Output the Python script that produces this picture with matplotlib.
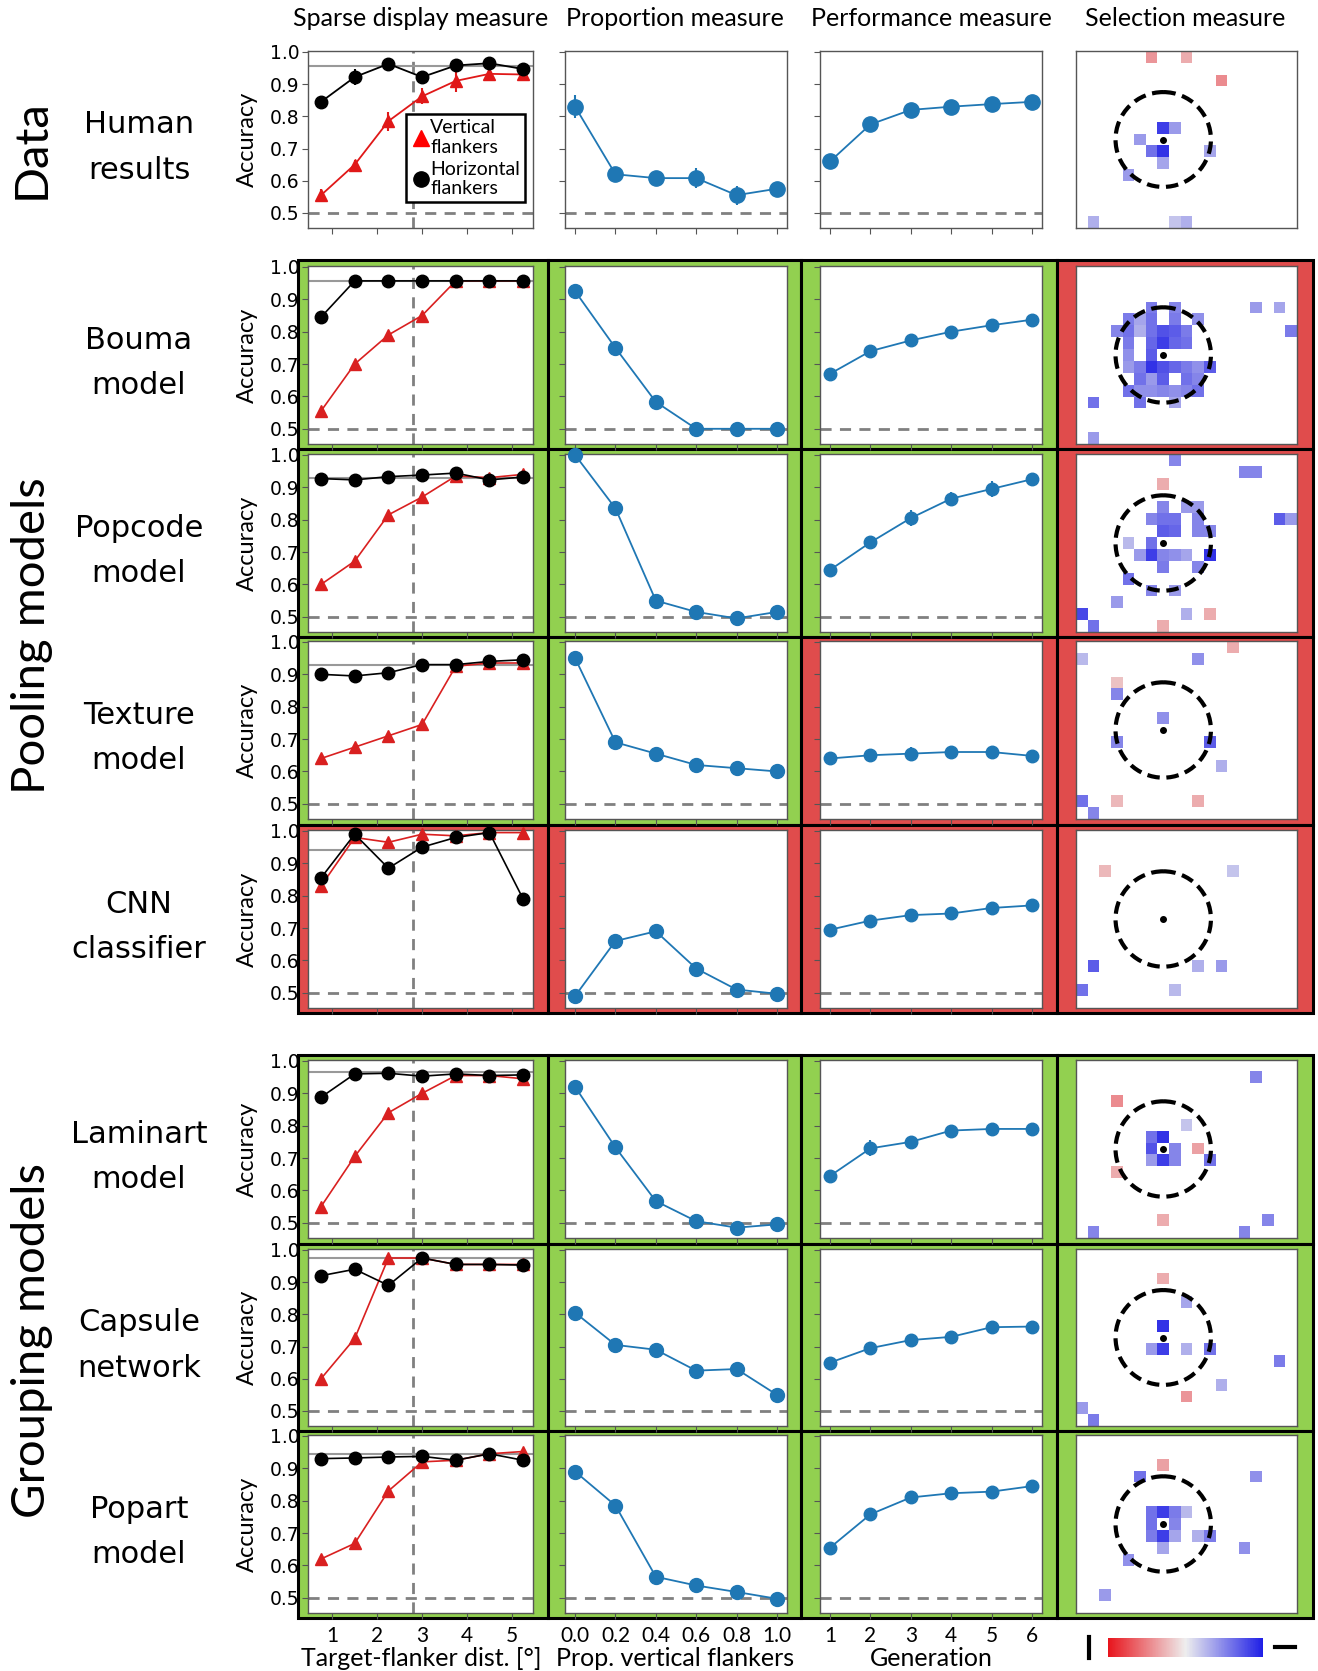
import numpy as np
import matplotlib
matplotlib.use('Agg')
import matplotlib.pyplot as plt
from matplotlib.patches import Rectangle, Ellipse
from matplotlib.colors import LinearSegmentedColormap, Normalize
from matplotlib.lines import Line2D
from matplotlib.cm import ScalarMappable

W, H = 1318, 1671
NARROW = ['Lato', 'DejaVu Sans']
WIDE = ['DejaVu Sans']

# ---------------- data ----------------
row_names = ['Human\nresults', 'Bouma\nmodel', 'Popcode\nmodel', 'Texture\nmodel',
             'CNN\nclassifier', 'Laminart\nmodel', 'Capsule\nnetwork', 'Popart\nmodel']
col_titles = ['Sparse display measure', 'Proportion measure', 'Performance measure', 'Selection measure']
col_xlabels = ['Target-flanker dist. [°]', 'Prop. vertical flankers', 'Generation']
group_labels = ['Data', 'Pooling models', 'Grouping models']

sparse_dist = [0.75, 1.5, 2.25, 3.0, 3.75, 4.5, 5.25]
sparse_ticks = [1, 2, 3, 4, 5]
prop_vert = [0.0, 0.2, 0.4, 0.6, 0.8, 1.0]
prop_ticklabels = ['0.0', '0.2', '0.4', '0.6', '0.8', '1.0']
generation = [1, 2, 3, 4, 5, 6]
acc_ticks = [0.5, 0.6, 0.7, 0.8, 0.9, 1.0]
crit_dist = 2.8

# sparse display: vertical (red) and horizontal (black) flankers
vert_human = [0.555, 0.65, 0.785, 0.862, 0.91, 0.932, 0.93]
vert_human_err = [0.02, 0.015, 0.03, 0.025, 0.035, 0.015, 0.012]
horiz_human = [0.845, 0.922, 0.963, 0.922, 0.958, 0.965, 0.947]
horiz_human_err = [0.008, 0.025, 0.015, 0.01, 0.02, 0.008, 0.015]
vert_bouma = [0.555, 0.70, 0.79, 0.85, 0.957, 0.957, 0.957]
horiz_bouma = [0.845, 0.957, 0.957, 0.957, 0.957, 0.957, 0.957]
vert_popcode = [0.60, 0.672, 0.815, 0.87, 0.935, 0.93, 0.94]
horiz_popcode = [0.927, 0.923, 0.933, 0.938, 0.944, 0.923, 0.932]
vert_texture = [0.64, 0.675, 0.71, 0.745, 0.925, 0.935, 0.935]
horiz_texture = [0.90, 0.895, 0.905, 0.93, 0.93, 0.94, 0.945]
vert_cnn = [0.83, 0.98, 0.965, 0.99, 0.985, 0.995, 0.995]
horiz_cnn = [0.855, 0.99, 0.885, 0.95, 0.98, 0.995, 0.79]
vert_laminart = [0.55, 0.705, 0.84, 0.90, 0.955, 0.955, 0.945]
horiz_laminart = [0.888, 0.96, 0.962, 0.953, 0.96, 0.955, 0.957]
vert_capsule = [0.60, 0.725, 0.975, 0.975, 0.955, 0.955, 0.955]
horiz_capsule = [0.92, 0.94, 0.89, 0.975, 0.955, 0.955, 0.953]
vert_popart = [0.62, 0.668, 0.83, 0.92, 0.925, 0.945, 0.952]
horiz_popart = [0.93, 0.932, 0.935, 0.937, 0.925, 0.945, 0.925]
baseline = [0.955, 0.957, 0.93, 0.93, 0.94, 0.965, 0.975, 0.945]

# proportion measure
prop_human = [0.83, 0.62, 0.608, 0.608, 0.555, 0.575]
prop_human_err = [0.035, 0.02, 0.015, 0.03, 0.03, 0.02]
prop_bouma = [0.925, 0.75, 0.583, 0.50, 0.50, 0.50]
prop_popcode = [1.0, 0.835, 0.55, 0.515, 0.495, 0.515]
prop_texture = [0.95, 0.69, 0.655, 0.62, 0.61, 0.60]
prop_cnn = [0.49, 0.66, 0.69, 0.575, 0.51, 0.497]
prop_laminart = [0.92, 0.733, 0.567, 0.505, 0.485, 0.495]
prop_capsule = [0.805, 0.705, 0.69, 0.625, 0.63, 0.55]
prop_popart = [0.89, 0.785, 0.565, 0.538, 0.518, 0.497]

# performance measure
perf_human = [0.66, 0.775, 0.82, 0.83, 0.838, 0.845]
perf_human_err = [0.012, 0.02, 0.02, 0.02, 0.01, 0.008]
perf_bouma = [0.67, 0.74, 0.773, 0.80, 0.82, 0.837]
perf_bouma_err = [0.005, 0.005, 0.005, 0.005, 0.005, 0.005]
perf_popcode = [0.645, 0.73, 0.805, 0.865, 0.895, 0.925]
perf_popcode_err = [0.01, 0.015, 0.025, 0.02, 0.025, 0.015]
perf_texture = [0.64, 0.65, 0.655, 0.66, 0.66, 0.648]
perf_texture_err = [0.01, 0.015, 0.02, 0.015, 0.012, 0.015]
perf_cnn = [0.695, 0.723, 0.74, 0.745, 0.762, 0.77]
perf_cnn_err = [0.015, 0.015, 0.015, 0.015, 0.015, 0.01]
perf_laminart = [0.645, 0.73, 0.75, 0.785, 0.79, 0.79]
perf_laminart_err = [0.015, 0.025, 0.01, 0.015, 0.012, 0.01]
perf_capsule = [0.65, 0.695, 0.72, 0.73, 0.76, 0.762]
perf_capsule_err = [0.01, 0.02, 0.01, 0.01, 0.015, 0.01]
perf_popart = [0.655, 0.758, 0.81, 0.823, 0.828, 0.845]
perf_popart_err = [0.01, 0.02, 0.015, 0.02, 0.012, 0.01]

# selection measure: (row, col, value); positive = blue, negative = red
sel_human = [(0, 6, -0.4), (0, 9, -0.3), (2, 12, -0.45), (6, 7, 0.85), (6, 8, 0.4),
             (7, 5, 0.4), (8, 6, 0.6), (8, 7, 0.9), (8, 11, 0.35), (9, 7, 0.35),
             (10, 4, 0.4), (14, 1, 0.3), (14, 8, 0.2), (14, 9, 0.3)]
sel_bouma = [(3, 6, 0.55), (3, 8, 0.5), (3, 15, 0.4), (3, 17, 0.35),
             (4, 4, 0.55), (4, 5, 0.35), (4, 6, 0.6), (4, 8, 0.55), (4, 10, 0.45),
             (5, 3, 0.5), (5, 4, 0.6), (5, 5, 0.3), (5, 6, 0.6), (5, 7, 0.75), (5, 8, 0.7), (5, 9, 0.55), (5, 18, 0.55),
             (6, 4, 0.55), (6, 6, 0.65), (6, 7, 0.85), (6, 8, 0.65), (6, 9, 0.6),
             (7, 4, 0.45), (7, 6, 0.7),
             (8, 4, 0.4), (8, 5, 0.55), (8, 6, 0.9), (8, 7, 0.75), (8, 8, 0.65), (8, 9, 0.55), (8, 10, 0.45), (8, 11, 0.7),
             (9, 5, 0.6), (9, 6, 0.4), (9, 7, 0.7), (9, 9, 0.6), (9, 10, 0.5),
             (10, 4, 0.6), (10, 5, 0.45), (10, 6, 0.45), (10, 7, 0.5), (10, 8, 0.45), (10, 9, 0.5), (10, 10, 0.6),
             (11, 1, 0.6), (11, 5, 0.6), (11, 8, 0.35), (14, 1, 0.4)]
sel_popcode = [(0, 8, 0.5), (1, 14, 0.5), (1, 15, 0.5), (2, 7, -0.3),
               (4, 7, 0.5), (4, 9, 0.4), (4, 10, 0.4),
               (5, 6, 0.5), (5, 7, 0.6), (5, 8, 0.6), (5, 10, 0.5), (5, 17, 0.7), (5, 18, 0.4),
               (6, 7, 0.7), (6, 8, 0.65), (6, 10, 0.5), (6, 11, 0.5),
               (7, 4, 0.25), (7, 6, 0.6),
               (8, 5, 0.4), (8, 6, 0.85), (8, 7, 0.5), (8, 8, 0.45), (8, 9, 0.35), (8, 11, 0.9),
               (9, 7, 0.55), (9, 10, 0.5), (10, 4, 0.6), (11, 6, 0.5), (11, 8, 0.4),
               (12, 3, 0.4), (13, 0, 0.8), (13, 9, 0.3), (13, 11, -0.3), (14, 1, 0.6), (14, 7, -0.3)]
sel_texture = [(0, 13, -0.3), (1, 0, 0.25), (1, 10, 0.45), (3, 3, -0.2), (4, 3, 0.5),
               (6, 7, 0.45), (8, 3, 0.5), (8, 11, 0.7), (10, 12, 0.3),
               (13, 0, 0.6), (14, 1, 0.5), (13, 3, -0.25), (13, 10, -0.3)]
sel_cnn = [(3, 2, -0.25), (3, 13, 0.2), (11, 1, 0.7), (11, 10, 0.3), (11, 12, 0.4),
           (13, 0, 0.6), (13, 8, 0.25)]
sel_laminart = [(1, 15, 0.5), (3, 3, -0.45), (5, 9, 0.2), (6, 6, 0.6), (6, 7, 0.9),
                (7, 6, 0.75), (7, 8, 0.5), (7, 10, -0.35),
                (8, 6, 0.4), (8, 7, 0.85), (8, 8, 0.5), (8, 11, 0.6),
                (9, 3, -0.3), (13, 7, -0.3), (13, 16, 0.5), (14, 1, 0.5), (14, 14, 0.5)]
sel_capsule = [(2, 7, -0.3), (4, 9, 0.35), (6, 7, 0.9), (8, 6, 0.4), (8, 7, 0.85),
               (8, 9, 0.3), (8, 11, 0.6), (9, 17, 0.55), (11, 12, 0.3), (12, 9, -0.4),
               (13, 0, 0.4), (14, 1, 0.55)]
sel_popart = [(2, 7, -0.35), (3, 5, 0.6), (3, 15, 0.45),
              (6, 6, 0.6), (6, 7, 0.85), (6, 8, 0.55), (6, 9, 0.25),
              (7, 6, 0.6), (7, 8, 0.5),
              (8, 6, 0.55), (8, 7, 0.85), (8, 8, 0.35), (8, 10, 0.3), (8, 11, 0.55),
              (9, 7, 0.35), (9, 14, 0.45), (10, 4, 0.45), (13, 2, 0.4)]
sel_shape = (15, 19)
sel_centre = (7.5, 7.5)
sel_radius = 4.1

# verdict colours per model row (sparse, proportion, performance, selection)
verdict_bouma = ['pass', 'pass', 'pass', 'fail']
verdict_popcode = ['pass', 'pass', 'pass', 'fail']
verdict_texture = ['pass', 'pass', 'fail', 'fail']
verdict_cnn = ['fail', 'fail', 'fail', 'fail']
verdict_laminart = ['pass', 'pass', 'pass', 'pass']
verdict_capsule = ['pass', 'pass', 'pass', 'pass']
verdict_popart = ['pass', 'pass', 'pass', 'pass']

sparse_vert = [vert_human, vert_bouma, vert_popcode, vert_texture, vert_cnn, vert_laminart, vert_capsule, vert_popart]
sparse_horiz = [horiz_human, horiz_bouma, horiz_popcode, horiz_texture, horiz_cnn, horiz_laminart, horiz_capsule, horiz_popart]
props = [prop_human, prop_bouma, prop_popcode, prop_texture, prop_cnn, prop_laminart, prop_capsule, prop_popart]
perfs = [perf_human, perf_bouma, perf_popcode, perf_texture, perf_cnn, perf_laminart, perf_capsule, perf_popart]
perf_errs = [perf_human_err, perf_bouma_err, perf_popcode_err, perf_texture_err, perf_cnn_err,
             perf_laminart_err, perf_capsule_err, perf_popart_err]
sels = [sel_human, sel_bouma, sel_popcode, sel_texture, sel_cnn, sel_laminart, sel_capsule, sel_popart]
verdicts = [None, verdict_bouma, verdict_popcode, verdict_texture, verdict_cnn,
            verdict_laminart, verdict_capsule, verdict_popart]

# ---------------- layout (pixels) ----------------
col_lr = [(308, 533), (565, 787), (820, 1042), (1076, 1297)]
row_tb = [(51, 228), (266, 444), (454, 632), (641, 819), (830, 1008),
          (1060, 1238), (1249, 1426), (1435, 1613)]
cell_x = [298, 548, 801, 1057, 1313]
cell_rows = {1: (260, 449), 2: (449, 636.5), 3: (636.5, 824.5), 4: (824.5, 1013),
             5: (1055, 1243.5), 6: (1243.5, 1430.5), 7: (1430.5, 1618)}
PASS, FAIL = '#92d050', '#e04c4c'
RED, BLUE, GREY = '#d92020', '#1f77b4', '#808080'
SPINE = '#555555'

cmap = LinearSegmentedColormap.from_list('sel', [(0, '#e8141c'), (0.5, '#eeeeee'), (1, '#1f1fe6')])
norm = Normalize(-1, 1)

fig = plt.figure(figsize=(W / 100, H / 100), dpi=100)
fig.patch.set_facecolor('white')


def px_axes(l, r, t, b):
    return fig.add_axes([l / W, 1 - b / H, (r - l) / W, (b - t) / H])


# coloured verdict cells
for ri, v in enumerate(verdicts):
    if v is None:
        continue
    t, b = cell_rows[ri]
    for ci in range(4):
        l, r = cell_x[ci], cell_x[ci + 1]
        fig.add_artist(Rectangle((l / W, 1 - b / H), (r - l) / W, (b - t) / H,
                                 transform=fig.transFigure, facecolor=PASS if v[ci] == 'pass' else FAIL,
                                 edgecolor='black', linewidth=2.2, zorder=-1))


def style_axes(ax):
    for s in ax.spines.values():
        s.set_color(SPINE)
        s.set_linewidth(1.0)
    ax.set_facecolor('white')


for ri in range(8):
    t, b = row_tb[ri]
    last = ri == 7
    # --- sparse display ---
    ax = px_axes(*col_lr[0], t, b)
    style_axes(ax)
    ax.axhline(0.5, color=GREY, ls=(0, (4, 3)), lw=2)
    ax.axvline(crit_dist, color=GREY, ls=(0, (4, 3)), lw=2)
    ax.axhline(baseline[ri], color='#999999', lw=1.5)
    if ri == 0:
        ax.errorbar(sparse_dist, vert_human, yerr=vert_human_err, color='#e01818', marker='^', ms=9, lw=1.3,
                    elinewidth=1.5, zorder=3)
        ax.errorbar(sparse_dist, horiz_human, yerr=horiz_human_err, color='black', marker='o', ms=9, lw=1.3,
                    elinewidth=1.5, zorder=3)
        hv = Line2D([], [], color='#ff0000', marker='^', ls='none', ms=11)
        hh = Line2D([], [], color='black', marker='o', ls='none', ms=11)
        leg = ax.legend([hv, hh], ['Vertical\nflankers', 'Horizontal\nflankers'], loc='lower right',
                        bbox_to_anchor=(0.965, 0.145), borderaxespad=0, fancybox=False, framealpha=1,
                        handletextpad=0.0, handlelength=1.0, labelspacing=0.25, borderpad=0.25,
                        prop={'family': NARROW, 'size': 14})
        leg.get_frame().set_edgecolor('black')
        leg.get_frame().set_linewidth(1.8)
    else:
        ax.plot(sparse_dist, sparse_vert[ri], color=RED, marker='^', ms=9, lw=1.2, zorder=3, clip_on=False)
        ax.plot(sparse_dist, sparse_horiz[ri], color='black', marker='o', ms=9, lw=1.2, zorder=4, clip_on=False)
    ax.set_xlim(0.46, 5.47)
    ax.set_ylim(0.453, 1.003)
    ax.set_xticks(sparse_ticks)
    ax.set_yticks(acc_ticks)
    ax.set_yticklabels(['%.1f' % v for v in acc_ticks], family=WIDE, fontsize=13.5)
    ax.tick_params(axis='both', direction='out', length=4, color=SPINE, pad=2)
    ax.set_ylabel('Accuracy', family=NARROW, fontsize=17, labelpad=9)
    if last:
        ax.set_xticklabels([str(v) for v in sparse_ticks], family=NARROW, fontsize=15)
        ax.tick_params(axis='x', pad=5)
    else:
        ax.set_xticklabels([])

    # --- proportion ---
    ax = px_axes(*col_lr[1], t, b)
    style_axes(ax)
    ax.axhline(0.5, color=GREY, ls=(0, (4, 3)), lw=2, zorder=1)
    if ri == 0:
        ax.errorbar(prop_vert, prop_human, yerr=prop_human_err, color=BLUE, marker='o', ms=11, lw=1.3,
                    elinewidth=1.5, zorder=3)
    else:
        ax.plot(prop_vert, props[ri], color=BLUE, marker='o', ms=10, lw=1.3, zorder=3, clip_on=False)
    ax.set_xlim(-0.05, 1.05)
    ax.set_ylim(0.453, 1.003)
    ax.set_xticks(prop_vert)
    ax.set_yticks(acc_ticks)
    ax.set_yticklabels([])
    ax.tick_params(axis='both', direction='out', length=4, color=SPINE)
    if last:
        ax.set_xticklabels(prop_ticklabels, family=NARROW, fontsize=15)
        ax.tick_params(axis='x', pad=5)
    else:
        ax.set_xticklabels([])

    # --- performance ---
    ax = px_axes(*col_lr[2], t, b)
    style_axes(ax)
    ax.axhline(0.5, color=GREY, ls=(0, (4, 3)), lw=2, zorder=1)
    ax.errorbar(generation, perfs[ri], yerr=perf_errs[ri], color=BLUE, marker='o',
                ms=11 if ri == 0 else 9, lw=1.3, elinewidth=1.5, zorder=3)
    ax.set_xlim(0.75, 6.25)
    ax.set_ylim(0.453, 1.003)
    ax.set_xticks(generation)
    ax.set_yticks(acc_ticks)
    ax.set_yticklabels([])
    ax.tick_params(axis='both', direction='out', length=4, color=SPINE)
    if last:
        ax.set_xticklabels([str(g) for g in generation], family=NARROW, fontsize=15)
        ax.tick_params(axis='x', pad=5)
    else:
        ax.set_xticklabels([])

    # --- selection ---
    ax = px_axes(*col_lr[3], t, b)
    style_axes(ax)
    grid = np.full(sel_shape, np.nan)
    for rr, cc, vv in sels[ri]:
        grid[rr, cc] = vv
    ax.imshow(np.ma.masked_invalid(grid), cmap=cmap, norm=norm, extent=(0, sel_shape[1], sel_shape[0], 0),
              aspect='auto', interpolation='nearest')
    ax.add_patch(Ellipse(sel_centre, 2 * sel_radius, 2 * sel_radius * 0.98, fill=False, ec='black',
                         lw=3, ls=(0, (3, 1.6))))
    ax.plot([sel_centre[0]], [sel_centre[1]], 'o', color='black', ms=4)
    ax.set_xlim(0, sel_shape[1])
    ax.set_ylim(sel_shape[0], 0)
    ax.set_xticks([])
    ax.set_yticks([])

    # row label
    fig.text(139 / W, 1 - ((t + b) / 2 + 8) / H, row_names[ri], ha='center', va='center',
             family=WIDE, fontsize=22, linespacing=1.7)

# column x labels (below the framed block)
for ci, x in enumerate([421, 675, 931]):
    fig.text(x / W, 1 - 1659 / H, col_xlabels[ci], ha='center', va='center', family=NARROW, fontsize=18)

# column titles
for ci, x in enumerate([421, 675, 931, 1185]):
    fig.text(x / W, 1 - 19 / H, col_titles[ci], ha='center', va='center', family=NARROW, fontsize=18)

# group labels
for lab, y in zip(group_labels, [149, 636, 1340]):
    fig.text(32 / W, 1 - y / H, lab, ha='center', va='center', rotation=90, family=NARROW, fontsize=34)

# colour bar
cax = px_axes(1108, 1263, 1638, 1657)
cb = fig.colorbar(ScalarMappable(norm=norm, cmap=cmap), cax=cax, orientation='horizontal')
cb.set_ticks([])
cb.outline.set_visible(False)
fig.add_artist(Line2D([1089 / W, 1089 / W], [1 - 1637 / H, 1 - 1658 / H], color='black', lw=3,
                      transform=fig.transFigure))
fig.add_artist(Line2D([1275 / W, 1295 / W], [1 - 1647 / H, 1 - 1647 / H], color='black', lw=3,
                      transform=fig.transFigure))

fig.savefig('out.png', dpi=100)
